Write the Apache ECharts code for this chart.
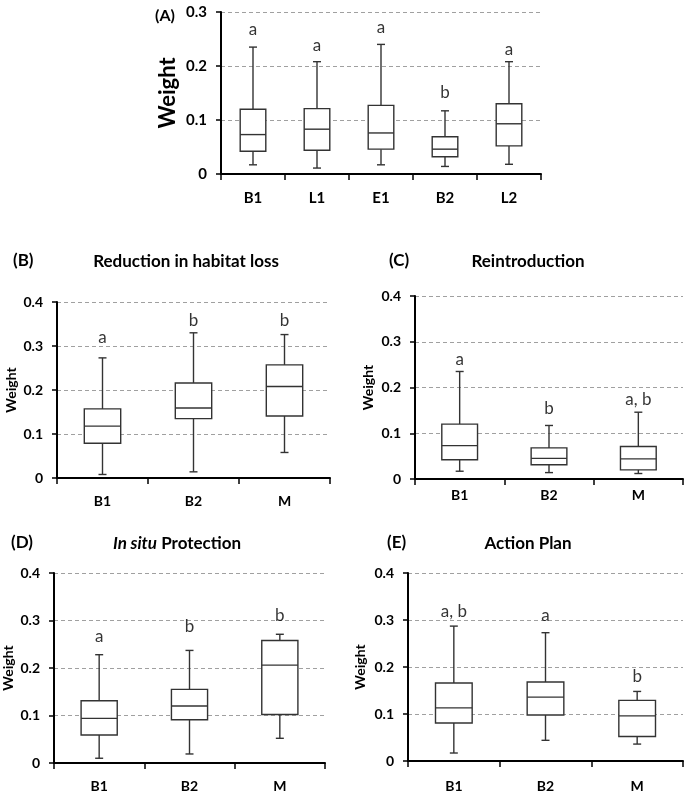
<!DOCTYPE html>
<html>
<head>
<meta charset="utf-8">
<script src="https://cdn.jsdelivr.net/npm/echarts@6/dist/echarts.min.js"></script>
<style>html,body{margin:0;padding:0;background:#fff}#c{width:685px;height:793px}</style>
</head>
<body>
<div id="c"></div>
<script>
// ---- data ----
const catsA = ['B1', 'L1', 'E1', 'B2', 'L2'];
const catsBE = ['B1', 'B2', 'M'];
// [min, Q1, median, Q3, max]
const boxA = [[0.017,0.042,0.073,0.120,0.235],[0.011,0.044,0.083,0.121,0.208],[0.017,0.046,0.076,0.127,0.240],[0.014,0.032,0.046,0.069,0.117],[0.018,0.052,0.093,0.130,0.208]];
const boxB = [[0.008,0.079,0.118,0.157,0.273],[0.014,0.135,0.159,0.216,0.330],[0.058,0.141,0.208,0.257,0.326]];
const boxC = [[0.017,0.042,0.073,0.120,0.235],[0.014,0.031,0.045,0.068,0.117],[0.012,0.020,0.044,0.071,0.146]];
const boxD = [[0.010,0.059,0.094,0.131,0.228],[0.019,0.091,0.120,0.155,0.237],[0.052,0.102,0.206,0.258,0.271]];
const boxE = [[0.017,0.081,0.113,0.166,0.287],[0.044,0.098,0.136,0.168,0.273],[0.036,0.052,0.096,0.129,0.148]];
const lettersA = ['a','a','a','b','a'];
const letterYA = [0.267,0.238,0.271,0.150,0.231];
const lettersB = ['a','b','b'];
const letterYB = [0.320,0.358,0.358];
const lettersC = ['a','b','a, b'];
const letterYC = [0.262,0.154,0.174];
const lettersD = ['a','b','b'];
const letterYD = [0.267,0.288,0.310];
const lettersE = ['a, b','a','b'];
const letterYE = [0.318,0.310,0.179];
const yTicksA = [0, 0.1, 0.2, 0.3];
const yTicksBE = [0, 0.1, 0.2, 0.3, 0.4];

// ---- layout ----
const FONT = 'Lato';
const panels = [
  {cats: catsA, box: boxA, letters: lettersA, ly: letterYA, ticks: yTicksA,
   grid: {left: 221, top: 12, width: 320, height: 162}, tickFont: 15, xFont: 15, nameFont: 22, nameGap: 42, xMargin: 17},
  {cats: catsBE, box: boxB, letters: lettersB, ly: letterYB, ticks: yTicksBE,
   grid: {left: 57, top: 302, width: 273, height: 176}, tickFont: 14, xFont: 14, nameFont: 14, nameGap: 39, xMargin: 16},
  {cats: catsBE, box: boxC, letters: lettersC, ly: letterYC, ticks: yTicksBE,
   grid: {left: 415, top: 296, width: 268, height: 183}, tickFont: 14, xFont: 14, nameFont: 14, nameGap: 40, xMargin: 9},
  {cats: catsBE, box: boxD, letters: lettersD, ly: letterYD, ticks: yTicksBE,
   grid: {left: 54, top: 573, width: 271, height: 193}, tickFont: 14, xFont: 14, nameFont: 14, nameGap: 39, xMargin: 16},
  {cats: catsBE, box: boxE, letters: lettersE, ly: letterYE, ticks: yTicksBE,
   grid: {left: 408, top: 573, width: 275, height: 193}, tickFont: 14, xFont: 14, nameFont: 14, nameGap: 41, xMargin: 18}
];

const STROKE = '#333';
function renderBox(params, api) {
  const i = api.value(0);
  const pMin = api.coord([i, api.value(1)]);
  const pQ1 = api.coord([i, api.value(2)]);
  const pMed = api.coord([i, api.value(3)]);
  const pQ3 = api.coord([i, api.value(4)]);
  const pMax = api.coord([i, api.value(5)]);
  const band = api.size([1, 0])[0];
  const bw = band * 0.4;
  const cw = 8;
  const x = pMed[0];
  const st = {stroke: STROKE, lineWidth: 1.4, fill: null};
  return {
    type: 'group',
    children: [
      {type: 'line', shape: {x1: x, y1: pQ3[1], x2: x, y2: pMax[1]}, style: st},
      {type: 'line', shape: {x1: x, y1: pQ1[1], x2: x, y2: pMin[1]}, style: st},
      {type: 'line', shape: {x1: x - cw/2, y1: pMax[1], x2: x + cw/2, y2: pMax[1]}, style: st},
      {type: 'line', shape: {x1: x - cw/2, y1: pMin[1], x2: x + cw/2, y2: pMin[1]}, style: st},
      {type: 'rect', shape: {x: x - bw/2, y: pQ3[1], width: bw, height: pQ1[1] - pQ3[1]},
       style: {stroke: STROKE, lineWidth: 1.4, fill: '#fff'}},
      {type: 'line', shape: {x1: x - bw/2, y1: pMed[1], x2: x + bw/2, y2: pMed[1]}, style: st}
    ]
  };
}

const grids = [], xAxes = [], yAxes = [], series = [];
panels.forEach((p, k) => {
  grids.push(Object.assign({containLabel: false}, p.grid));
  xAxes.push({
    type: 'category', gridIndex: k, data: p.cats, boundaryGap: true,
    axisLine: {lineStyle: {color: '#000', width: 2}},
    axisTick: {show: true, alignWithLabel: false, length: 6, lineStyle: {color: '#000', width: 1.5}},
    axisLabel: {color: '#000', fontFamily: FONT, fontWeight: 'bold', fontSize: p.xFont, margin: p.xMargin},
    splitLine: {show: false}
  });
  const maxV = p.ticks[p.ticks.length - 1];
  yAxes.push({
    type: 'value', gridIndex: k, min: 0, max: maxV, interval: 0.1,
    name: 'Weight', nameLocation: 'middle', nameGap: p.nameGap,
    nameTextStyle: {color: '#000', fontFamily: FONT, fontWeight: 'bold', fontSize: p.nameFont},
    axisLine: {show: true, lineStyle: {color: '#000', width: 2}},
    axisTick: {show: true, length: 5, lineStyle: {color: '#000', width: 1.5}},
    axisLabel: {color: '#000', fontFamily: FONT, fontWeight: 'bold', fontSize: p.tickFont, margin: 14,
      formatter: v => (Math.abs(v) < 1e-9 ? '0' : v.toFixed(1))},
    splitLine: {show: true, lineStyle: {color: '#a0a0a0', type: [4, 3], width: 1}}
  });
  series.push({
    type: 'custom', xAxisIndex: k, yAxisIndex: k, renderItem: renderBox,
    encode: {x: 0, y: [1, 2, 3, 4, 5]},
    data: p.box.map((b, i) => [i].concat(b)), silent: true, z: 3
  });
  series.push({
    type: 'scatter', xAxisIndex: k, yAxisIndex: k, symbolSize: 0, silent: true, z: 4,
    data: p.ly.map((v, i) => ({value: [i, v], name: p.letters[i]})),
    label: {show: true, position: 'inside', formatter: d => d.name, color: '#000',
      fontFamily: FONT, fontSize: 17}
  });
});

const tStyle = {color: '#000', fontFamily: FONT, fontWeight: 'bold', fontSize: 17};
const titles = [
  {text: '(A)', left: 150, top: 3, textStyle: Object.assign({}, tStyle, {fontSize: 16})},
  {text: '(B)', left: 8, top: 247, textStyle: tStyle},
  {text: 'Reduction in habitat loss', left: 181, top: 248, textAlign: 'center', textStyle: tStyle},
  {text: '(C)', left: 384, top: 247, textStyle: tStyle},
  {text: 'Reintroduction', left: 523, top: 248, textAlign: 'center', textStyle: tStyle},
  {text: '(D)', left: 6, top: 529, textStyle: tStyle},
  {text: '{i|In situ} Protection', left: 172, top: 530, textAlign: 'center',
   textStyle: Object.assign({}, tStyle, {rich: {i: {fontStyle: 'italic', fontWeight: 'bold', fontFamily: FONT, fontSize: 17, color: '#000'}}})},
  {text: '(E)', left: 382, top: 529, textStyle: tStyle},
  {text: 'Action Plan', left: 523, top: 530, textAlign: 'center', textStyle: tStyle}
];

const chart = echarts.init(document.getElementById('c'), null, {renderer: 'canvas'});
chart.setOption({
  backgroundColor: '#fff',
  animation: false,
  title: titles,
  grid: grids,
  xAxis: xAxes,
  yAxis: yAxes,
  series: series
});
</script>
</body>
</html>
